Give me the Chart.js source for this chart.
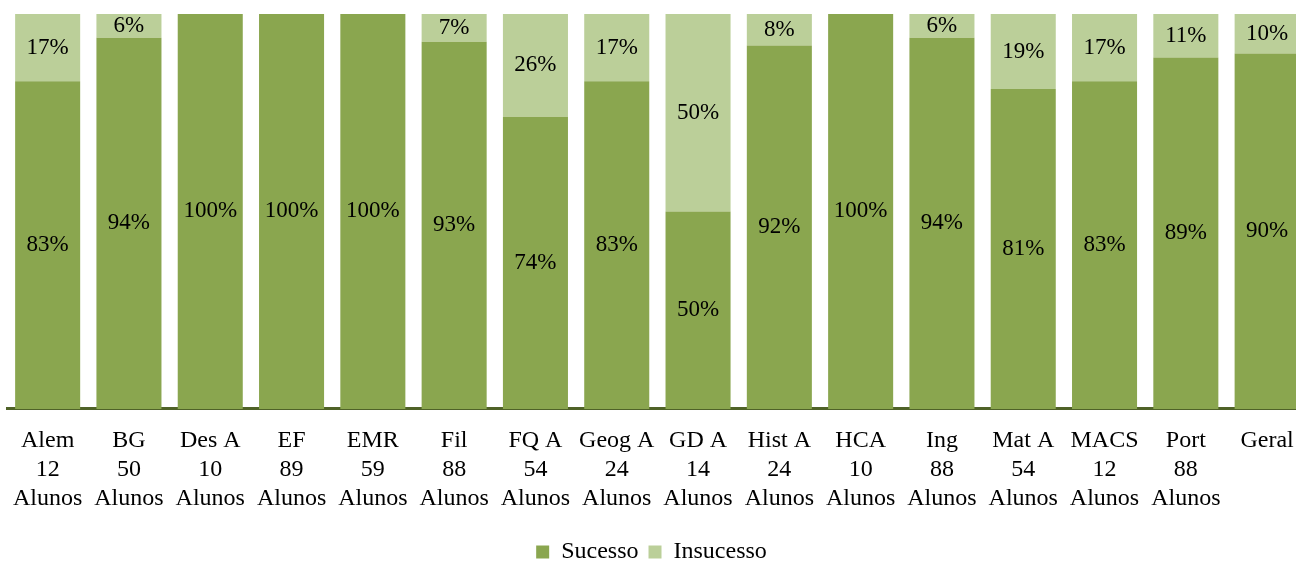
<!DOCTYPE html>
<html>
<head>
<meta charset="utf-8">
<script src="https://cdn.jsdelivr.net/npm/chart.js@4/dist/chart.umd.min.js"></script>
<style>
html,body{margin:0;padding:0;background:#fff;overflow:hidden;}
#wrap{width:1296px;height:561px;position:relative;}
</style>
</head>
<body>
<div id="wrap"><canvas id="c" width="1296" height="561"></canvas></div>
<script>
const categories = ["Alem","BG","Des A","EF","EMR","Fil","FQ A","Geog A","GD A","Hist A","HCA","Ing","Mat A","MACS","Port","Geral"];
const students = ["12","50","10","89","59","88","54","24","14","24","10","88","54","12","88",""];
const sucesso   = [83,94,100,100,100,93,74,83,50,92,100,94,81,83,89,90];
const insucesso = [17,6,0,0,0,7,26,17,50,8,0,6,19,17,11,10];

const FONT = "'Liberation Serif', serif";

const pctLabels = {
  id: 'pctLabels',
  afterDatasetsDraw(chart) {
    const ctx = chart.ctx;
    ctx.save();
    ctx.font = "23px " + FONT;
    ctx.fillStyle = "#000";
    ctx.textAlign = "center";
    ctx.textBaseline = "middle";
    chart.data.datasets.forEach((ds, di) => {
      const meta = chart.getDatasetMeta(di);
      meta.data.forEach((el, i) => {
        const v = ds.data[i].y;
        if (!v) return;
        const y = (el.y + el.base) / 2;
        ctx.fillText(v + "%", el.x, y);
      });
    });
    ctx.restore();
  }
};

new Chart(document.getElementById('c'), {
  type: 'bar',
  data: {
    datasets: [
      { label: 'Sucesso', data: sucesso.map((v, i) => ({x: i, y: v})), backgroundColor: '#8AA64F',
        borderWidth: 0, barPercentage: 0.8, categoryPercentage: 1 },
      { label: 'Insucesso', data: insucesso.map((v, i) => ({x: i, y: v})), backgroundColor: '#BBCF99',
        borderWidth: 0, barPercentage: 0.8, categoryPercentage: 1 }
    ]
  },
  options: {
    responsive: false,
    animation: false,
    layout: { padding: { left: 7, right: 0, top: 14, bottom: -13 } },
    plugins: {
      tooltip: { enabled: false },
      legend: {
        position: 'bottom',
        labels: {
          font: { family: FONT, size: 24 },
          color: '#000',
          boxWidth: 13, boxHeight: 13,
          padding: 10
        }
      }
    },
    scales: {
      x: {
        type: 'linear',
        stacked: true,
        offset: false,
        min: -0.5,
        max: 15.355,
        afterBuildTicks: s => { s.ticks = categories.map((_, i) => ({ value: i })); },
        afterFit: s => { s.paddingRight = 0; s.paddingLeft = 0; },
        ticks: {
          autoSkip: false,
          maxRotation: 0,
          padding: 17,
          color: '#000',
          font: { family: FONT, size: 24, lineHeight: 1.21 },
          callback: (v) => {
            const i = Math.round(v);
            if (i !== v || i < 0 || i >= categories.length) return '';
            return students[i] ? [categories[i], students[i], 'Alunos'] : [categories[i]];
          }
        },
        grid: { display: false, drawTicks: false },
        border: { display: true, color: '#4F6228', width: 3 }
      },
      y: {
        stacked: true,
        min: 0,
        max: 100,
        display: false
      }
    }
  },
  plugins: [pctLabels]
});
</script>
</body>
</html>
